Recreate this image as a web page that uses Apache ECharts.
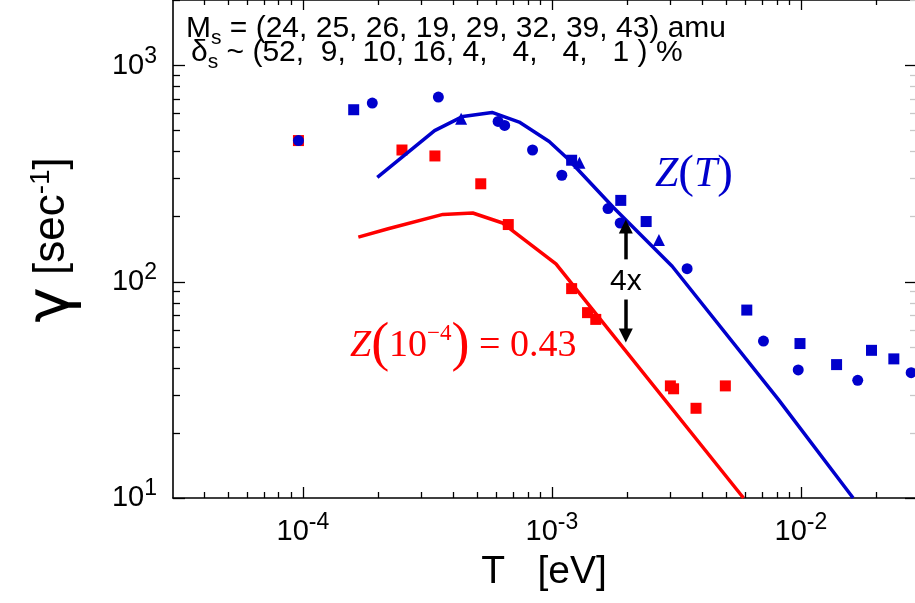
<!DOCTYPE html>
<html>
<head>
<meta charset="utf-8">
<script src="https://cdn.jsdelivr.net/npm/echarts@6/dist/echarts.min.js"></script>
<style>
html, body { margin: 0; padding: 0; background: #fff; }
#main { width: 915px; height: 603px; }
</style>
</head>
<body>
<div id="main"></div>
<script>
// measured points, T in eV, gamma in 1/s
var redSquares = [[9.6e-5, 450], [2.50e-4, 407], [3.39e-4, 382], [5.18e-4, 284], [6.68e-4, 184],
    [1.20e-3, 93], [1.39e-3, 72], [1.50e-3, 67], [2.99e-3, 33], [3.08e-3, 32], [3.79e-3, 26], [4.97e-3, 33]];
var blueSquares = [[1.60e-4, 625], [1.20e-3, 365], [1.89e-3, 238], [2.39e-3, 190], [6.06e-3, 74],
    [9.91e-3, 51.8], [1.39e-2, 41.4], [1.92e-2, 48.2], [2.36e-2, 44.0]];
var blueCircles = [[9.6e-5, 450], [1.90e-4, 671], [3.50e-4, 715], [6.08e-4, 552], [6.46e-4, 529],
    [8.36e-4, 407], [1.096e-3, 311], [1.68e-3, 218], [1.88e-3, 187], [3.49e-3, 115],
    [7.07e-3, 53.2], [9.75e-3, 39.1], [1.69e-2, 35.0], [2.77e-2, 38.0]];
var blueTriangles = [[4.32e-4, 568], [1.29e-3, 355], [2.69e-3, 156]];

// model curves
var curveZT = [[1.99e-4, 304], [3.38e-4, 500], [4.39e-4, 582], [5.75e-4, 607], [7.39e-4, 548],
    [9.75e-4, 446], [1.15e-3, 374], [1.77e-3, 220], [3.04e-3, 118], [8.11e-3, 28.6], [1.62e-2, 10]];
var curveZ43 = [[1.67e-4, 161], [2.20e-4, 176], [3.65e-4, 205], [4.81e-4, 208], [6.34e-4, 187],
    [1.038e-3, 121], [5.88e-3, 10]];

// "4x" arrow (shaft start, arrow head centre)
var arrowX = 1.98e-3;
var arrowUp = [127, 180];
var arrowDown = [82.8, 56.5];
var arrowLabelY = 100;

// axes
var xMin = 3.01e-5, xMax = 2.87e-2;
var yMin = 10, yMax = 2011;
var xMajor = [1e-4, 1e-3, 1e-2];
var yMajor = [10, 100, 1000];

var BLUE = '#0000cc';
var RED = '#ff0000';
var SANS = 'Liberation Sans';
var SERIF = 'Liberation Serif';

// 2..9 times every decade, kept inside the axis range
function minorTicks(lo, hi) {
    var out = [];
    for (var e = -6; e <= 4; e++) {
        for (var m = 2; m <= 9; m++) {
            var v = m * Math.pow(10, e);
            if (v >= lo && v <= hi) out.push(v);
        }
    }
    return out;
}

function powLabel(v) {
    return '10{s|' + Math.round(Math.log10(v)) + '}';
}

var labelRich = { s: { fontSize: 23, fontFamily: SANS, color: '#000', padding: [0, 0, 18, 0] } };

function axis(dim, pos, ticks, len, opts) {
    var a = {
        type: 'log', position: pos, gridIndex: 0,
        min: dim == 'x' ? xMin : yMin,
        max: dim == 'x' ? xMax : yMax,
        splitLine: { show: false },
        axisLine: { show: false },
        axisTick: { show: true, inside: true, length: len, customValues: ticks,
            lineStyle: { color: (opts && opts.tickColor) || '#000', width: 1.3 } },
        axisLabel: { show: false }
    };
    if (opts && opts.line) {
        a.axisLine = { show: true, onZero: false, lineStyle: { color: '#000', width: 1.6 } };
    }
    return a;
}

var xBottom = axis('x', 'bottom', xMajor, 11, { line: true });
xBottom.axisLabel = {
    show: true, customValues: xMajor, formatter: powLabel, margin: 13,
    fontSize: 29, fontFamily: SANS, color: '#000', rich: labelRich
};
xBottom.name = 'T   [eV]';
xBottom.nameLocation = 'middle';
xBottom.nameGap = 55;
xBottom.nameTextStyle = { fontSize: 39, fontFamily: SANS, color: '#000' };

var yLeft = axis('y', 'left', yMajor, 12, { line: true });
yLeft.axisLabel = {
    show: true, customValues: yMajor, formatter: powLabel, margin: 16,
    fontSize: 29, fontFamily: SANS, color: '#000', rich: labelRich
};

var topRich = {
    m: { fontSize: 30, fontFamily: SANS },
    sub: { fontSize: 21, fontFamily: SANS, padding: [18, 0, 0, 0] }
};

var option = {
    animation: false,
    backgroundColor: '#fff',
    grid: { left: 173, top: 0, width: 743, height: 498, containLabel: false },
    xAxis: [
        xBottom,
        axis('x', 'bottom', minorTicks(xMin, xMax), 6),
        axis('x', 'top', xMajor, 10, { line: true }),
        axis('x', 'top', minorTicks(xMin, xMax), 5)
    ],
    yAxis: [
        yLeft,
        axis('y', 'left', minorTicks(yMin, yMax), 7),
        axis('y', 'right', yMajor, 10),
        axis('y', 'right', minorTicks(yMin, yMax), 5, { tickColor: '#c8c8c8' })
    ],
    series: [
        {
            name: 'Z(T)', type: 'line', data: curveZT, symbol: 'none', silent: true,
            lineStyle: { color: BLUE, width: 3.5 }
        },
        {
            name: 'Z(1e-4)', type: 'line', data: curveZ43, symbol: 'none', silent: true,
            lineStyle: { color: RED, width: 3.5 },
            markLine: {
                silent: true, symbol: ['none', 'triangle'], symbolSize: 14,
                lineStyle: { color: '#000', width: 3.5, type: 'solid' },
                itemStyle: { color: '#000' },
                label: { show: false },
                data: [
                    [{ coord: [arrowX, arrowUp[0]] }, { coord: [arrowX, arrowUp[1]] }],
                    [{ coord: [arrowX, arrowDown[0]] }, { coord: [arrowX, arrowDown[1]] }]
                ]
            },
            markPoint: {
                silent: true, symbol: 'rect', symbolSize: 1,
                itemStyle: { color: 'rgba(0,0,0,0)' },
                label: { show: true, position: 'inside', formatter: '4x',
                    fontSize: 30, fontFamily: SANS, color: '#000' },
                data: [{ coord: [arrowX, arrowLabelY] }]
            }
        },
        { name: 'red', type: 'scatter', data: redSquares, symbol: 'rect', symbolSize: 11,
          itemStyle: { color: RED, opacity: 1 } },
        { name: 'blue sq', type: 'scatter', data: blueSquares, symbol: 'rect', symbolSize: 11,
          itemStyle: { color: BLUE, opacity: 1 } },
        { name: 'blue circ', type: 'scatter', data: blueCircles, symbol: 'circle', symbolSize: 11,
          itemStyle: { color: BLUE, opacity: 1 } },
        { name: 'blue tri', type: 'scatter', data: blueTriangles, symbol: 'triangle', symbolSize: 12,
          itemStyle: { color: BLUE, opacity: 1 } }
    ],
    graphic: [
        {
            type: 'text', x: 186, y: 29, silent: true,
            style: {
                text: '{m|M}{sub|s}{m| = (24, 25, 26, 19, 29, 32, 39, 43) amu}',
                fill: '#000', verticalAlign: 'middle', rich: topRich
            }
        },
        {
            type: 'text', x: 191, y: 53, silent: true,
            style: {
                text: '{m|δ}{sub|s}{m| ~ (52,  9,  10, 16, 4,   4,   4,   1 ) %}',
                fill: '#000', verticalAlign: 'middle', rich: topRich
            }
        },
        {
            type: 'text', x: 52, y: 240, rotation: Math.PI / 2, silent: true,
            style: {
                text: '{g|γ}{n| [sec}{s|-1}{n|]}',
                align: 'center', verticalAlign: 'middle', fill: '#000',
                rich: {
                    g: { fontSize: 60, fontFamily: 'DejaVu Sans' },
                    n: { fontSize: 44, fontFamily: SANS },
                    s: { fontSize: 28, fontFamily: SANS, padding: [0, 0, 22, 0] }
                }
            }
        },
        {
            type: 'text', x: 655, y: 175, silent: true,
            style: {
                text: '{i|Z}{p|(}{i|T}{p|)}',
                verticalAlign: 'middle', fill: BLUE,
                rich: {
                    i: { fontSize: 42, fontFamily: SERIF, fontStyle: 'italic' },
                    p: { fontSize: 47, fontFamily: SERIF }
                }
            }
        },
        {
            type: 'text', x: 350, y: 346, silent: true,
            style: {
                text: '{i|Z}{p|(}{n|10}{s|−4}{p|)}{n| = 0.43}',
                verticalAlign: 'middle', fill: RED,
                rich: {
                    i: { fontSize: 38, fontFamily: SERIF, fontStyle: 'italic' },
                    n: { fontSize: 38, fontFamily: SERIF },
                    p: { fontSize: 54, fontFamily: SERIF },
                    s: { fontSize: 23, fontFamily: SERIF, padding: [0, 0, 24, 0] }
                }
            }
        }
    ]
};

var myChart = echarts.init(document.getElementById('main'));
myChart.setOption(option);
</script>
</body>
</html>
